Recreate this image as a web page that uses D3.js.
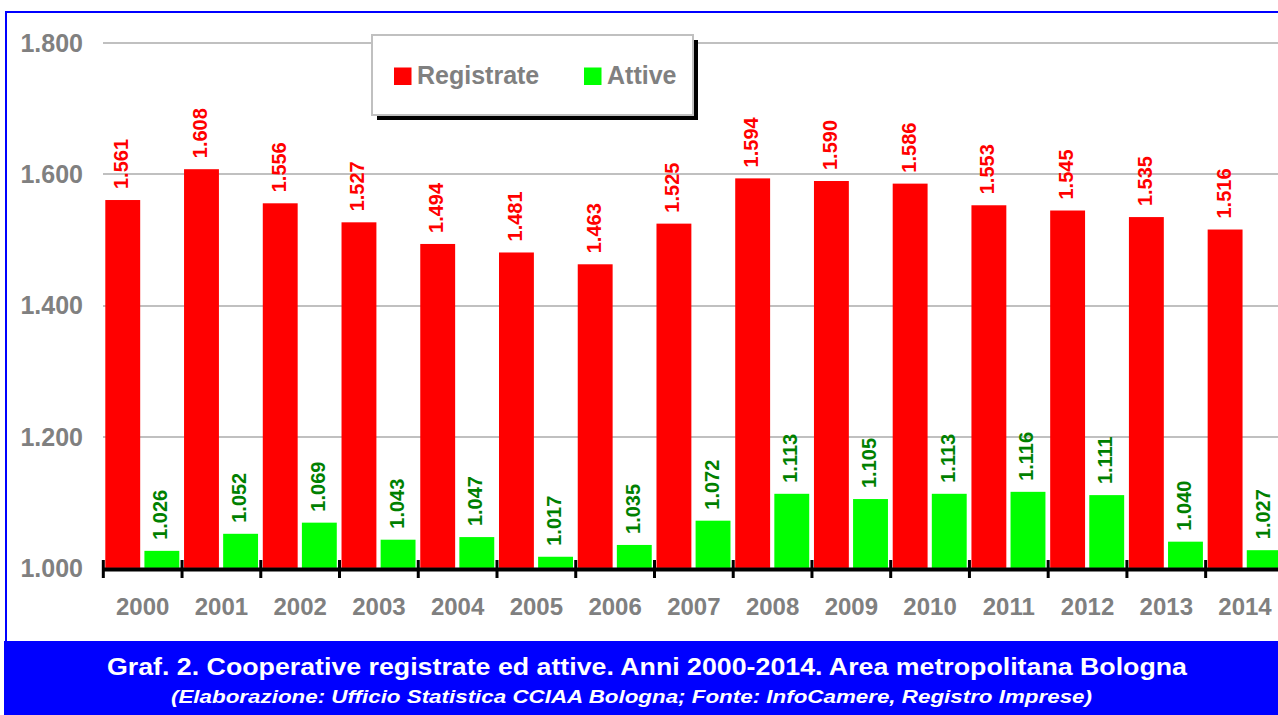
<!DOCTYPE html>
<html>
<head>
<meta charset="utf-8">
<script src="https://cdn.jsdelivr.net/npm/d3@7"></script>
<style>
    body { margin: 0; background: #fff; }
    svg text { font-family: Arial, "Liberation Sans", sans-serif; font-weight: bold; }
</style>
</head>
<body>
<svg id="chart"></svg>
<script>
const years = ["2000", "2001", "2002", "2003", "2004", "2005", "2006", "2007",
    "2008", "2009", "2010", "2011", "2012", "2013", "2014"];
const registrate = [1561, 1608, 1556, 1527, 1494, 1481, 1463, 1525, 1594, 1590, 1586, 1553, 1545, 1535, 1516];
const attive = [1026, 1052, 1069, 1043, 1047, 1017, 1035, 1072, 1113, 1105, 1113, 1116, 1111, 1040, 1027];
const seriesNames = ["Registrate", "Attive"];
const yTicks = [1000, 1200, 1400, 1600, 1800];
const title = "Graf. 2. Cooperative registrate ed attive. Anni 2000-2014. Area metropolitana Bologna";
const subtitle = "(Elaborazione: Ufficio Statistica CCIAA Bologna; Fonte: InfoCamere, Registro Imprese)";

const W = 1278, H = 715;
const fill = { Registrate: "#ff0000", Attive: "#00ff00" };
const labelColor = { Registrate: "#ff0000", Attive: "#008000" };

const it = d3.formatLocale({ decimal: ",", thousands: ".", grouping: [3], currency: ["", ""] });
const fmt = it.format(",");

let svg = d3.select("svg#chart").attr("width", W).attr("height", H);

// blue frame
svg.append("rect")
    .attr("x", 6).attr("y", 12)
    .attr("width", W + 10).attr("height", H)
    .attr("fill", "none")
    .attr("stroke", "#0000ff")
    .attr("stroke-width", 2);

let x = d3.scaleBand().domain(years).range([103.3, 1284.4]);
let xs = d3.scaleBand().domain(seriesNames).range([2, 76]).paddingInner(0.108);
let y = d3.scaleLinear().domain([1000, 1800]).range([567.9, 43.3]);

// gridlines
svg.selectAll()
    .data(yTicks.slice(1))
    .enter()
    .append("line")
    .attr("x1", 103).attr("x2", W)
    .attr("y1", (d) => Math.round(y(d)))
    .attr("y2", (d) => Math.round(y(d)))
    .attr("stroke", "#c0c0c0")
    .attr("stroke-width", 2);

// y tick labels
svg.selectAll()
    .data(yTicks)
    .enter()
    .append("text")
    .attr("x", 83)
    .attr("y", (d) => y(d))
    .attr("dy", "0.35em")
    .attr("text-anchor", "end")
    .attr("font-size", 25)
    .attr("fill", "#808080")
    .text((d) => it.format(",.3f")(d / 1000).replace(",", "."));

let rows = years.map((yr, i) => [
    { year: yr, key: "Registrate", value: registrate[i] },
    { year: yr, key: "Attive", value: attive[i] },
]).flat();

// bars
svg.selectAll()
    .data(rows)
    .enter()
    .append("rect")
    .attr("x", (d) => x(d.year) + xs(d.key))
    .attr("y", (d) => y(d.value))
    .attr("width", xs.bandwidth())
    .attr("height", (d) => y(1000) - y(d.value))
    .attr("fill", (d) => fill[d.key]);

// value labels
svg.selectAll()
    .data(rows)
    .enter()
    .append("text")
    .attr("transform", (d) => {
        let cx = x(d.year) + xs(d.key) + xs.bandwidth() / 2 + 5.5;
        return `translate(${cx},${y(d.value) - 11}) rotate(-90)`;
    })
    .attr("font-size", 20)
    .attr("fill", (d) => labelColor[d.key])
    .text((d) => fmt(d.value));

// x axis
let xAxis = d3.axisBottom(x).tickSize(0).tickFormat("");
let gx = svg.append("g").attr("transform", "translate(0,569)").call(xAxis);
gx.select(".domain").attr("stroke", "#000").attr("stroke-width", 4);
svg.selectAll()
    .data(years)
    .enter()
    .append("line")
    .attr("x1", (d) => x(d)).attr("x2", (d) => x(d))
    .attr("y1", 560).attr("y2", 578)
    .attr("stroke", "#000")
    .attr("stroke-width", 3);
svg.selectAll()
    .data(years)
    .enter()
    .append("text")
    .attr("x", (d) => x(d) + x.bandwidth() / 2)
    .attr("y", 615)
    .attr("text-anchor", "middle")
    .attr("font-size", 24)
    .attr("fill", "#808080")
    .text((d) => d);

// legend
let legend = svg.append("g");
legend.append("rect")
    .attr("x", 377).attr("y", 40).attr("width", 321).attr("height", 80)
    .attr("fill", "#000");
legend.append("rect")
    .attr("x", 372).attr("y", 35).attr("width", 321).attr("height", 80)
    .attr("fill", "#fff").attr("stroke", "#c0c0c0").attr("stroke-width", 2);
let legendX = [394, 584];
seriesNames.forEach((name, i) => {
    legend.append("rect")
        .attr("x", legendX[i]).attr("y", 67.5).attr("width", 17.5).attr("height", 17.5)
        .attr("fill", fill[name]);
    legend.append("text")
        .attr("x", legendX[i] + 23).attr("y", 84)
        .attr("font-size", 25)
        .attr("fill", "#808080")
        .text(name);
});

// caption banner
svg.append("rect")
    .attr("x", 4).attr("y", 641).attr("width", W).attr("height", H - 641)
    .attr("fill", "#0000ff");
svg.append("text")
    .attr("x", 107).attr("y", 675)
    .attr("font-size", 23)
    .attr("fill", "#fff")
    .attr("textLength", 1080)
    .attr("lengthAdjust", "spacingAndGlyphs")
    .text(title);
svg.append("text")
    .attr("x", 171).attr("y", 703)
    .attr("font-size", 18)
    .attr("font-style", "italic")
    .attr("fill", "#fff")
    .attr("textLength", 921)
    .attr("lengthAdjust", "spacingAndGlyphs")
    .text(subtitle);
</script>
</body>
</html>
